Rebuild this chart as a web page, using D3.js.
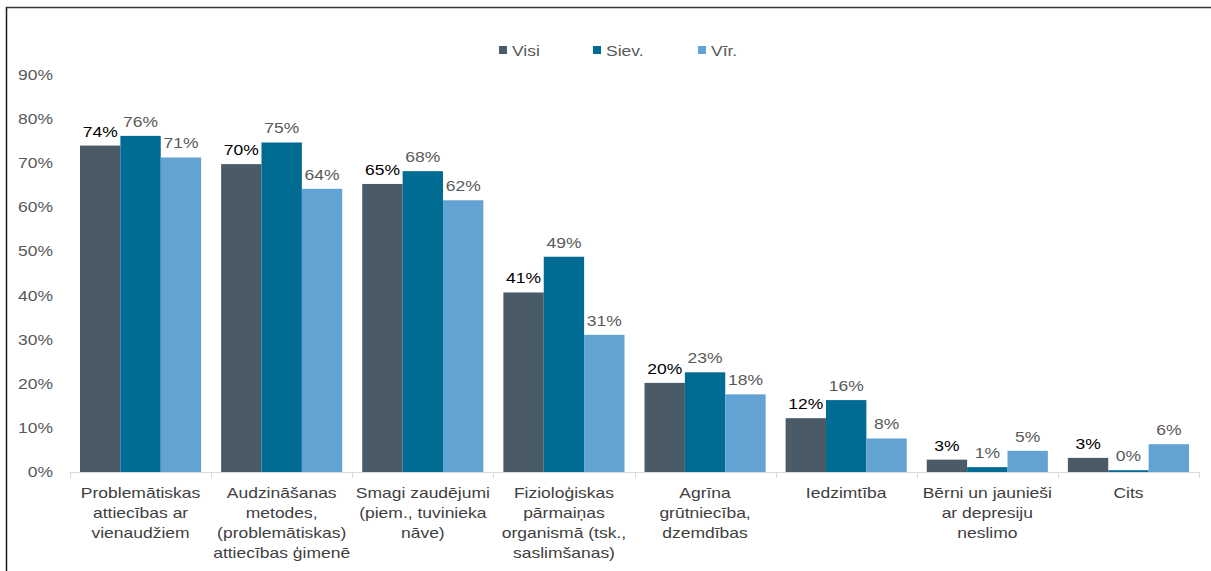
<!DOCTYPE html>
<html><head><meta charset="utf-8">
<script src="https://cdn.jsdelivr.net/npm/d3@7"></script>
<style>html,body{margin:0;padding:0;background:#fff;}svg{display:block;}</style>
</head><body>
<script>
const categories = [
  ["Problemātiskas","attiecības ar","vienaudžiem"],
  ["Audzināšanas","metodes,","(problemātiskas)","attiecības ģimenē"],
  ["Smagi zaudējumi","(piem., tuvinieka","nāve)"],
  ["Fizioloģiskas","pārmaiņas","organismā (tsk.,","saslimšanas)"],
  ["Agrīna","grūtniecība,","dzemdības"],
  ["Iedzimtība"],
  ["Bērni un jaunieši","ar depresiju","neslimo"],
  ["Cits"]
];
const seriesNames = ["Visi","Siev.","Vīr."];
const visi  = [74.0, 69.8, 65.3, 40.7, 20.2, 12.2, 2.8, 3.2];
const siev  = [76.2, 74.7, 68.2, 48.8, 22.6, 16.3, 1.1, 0.4];
const vir   = [71.3, 64.2, 61.6, 31.1, 17.6, 7.6, 4.8, 6.3];
const yTicks = [0,10,20,30,40,50,60,70,80,90];
const colors = ["#4a5a67","#006b93","#62a3d3"];
const labelColors = ["#000000","#595959","#595959"];

const W = 1211, H = 571;
const FS = 14, SX = 1.25;
const font = "'Liberation Sans', Arial, sans-serif";
const svg = d3.select("body").append("svg").attr("width", W).attr("height", H);

// frame
svg.append("line").attr("x1",6).attr("x2",W).attr("y1",7.5).attr("y2",7.5).attr("stroke","#3a3a3a").attr("stroke-width",1.5);
svg.append("line").attr("x1",6.5).attr("x2",6.5).attr("y1",7).attr("y2",H).attr("stroke","#1a1a1a").attr("stroke-width",1.5);

const x0 = d3.scaleBand().domain(d3.range(categories.length)).range([70,1199]).padding(0);
const x1 = d3.scaleBand().domain(d3.range(3)).range([10, x0.bandwidth()-10]).padding(0);
const y = d3.scaleLinear().domain([0,90]).range([472,75]);

function txt(g, x, yy, s, anchor, color){
  return g.append("text").attr("transform",`translate(${x},${yy}) scale(${SX},1)`)
    .attr("text-anchor",anchor).attr("font-family",font).attr("font-size",FS)
    .attr("fill",color).text(s);
}

// y tick labels
const yg = svg.append("g");
yTicks.forEach(t => txt(yg, 53, y(t)+5, t+"%", "end", "#595959"));

// bars
const data = [visi, siev, vir];
const bg = svg.append("g");
data.forEach((arr, si) => {
  arr.forEach((v, ci) => {
    const bx = x0(ci) + x1(si);
    bg.append("rect").attr("x", bx).attr("y", y(v)).attr("width", x1.bandwidth())
      .attr("height", y(0)-y(v)).attr("fill", colors[si]);
  });
});
// axis line + ticks
const ax = svg.append("g");
ax.append("line").attr("x1",70).attr("x2",1199).attr("y1",472.5).attr("y2",472.5).attr("stroke","#d9d9d9").attr("stroke-width",1);
d3.range(categories.length+1).forEach(i => {
  const xx = Math.round(70 + i*x0.step()) + 0.5;
  ax.append("line").attr("x1",xx).attr("x2",xx).attr("y1",472).attr("y2",478).attr("stroke","#d9d9d9");
});
// data labels
const lg = svg.append("g");
data.forEach((arr, si) => {
  arr.forEach((v, ci) => {
    const cx = x0(ci) + x1(si) + x1.bandwidth()/2;
    txt(lg, cx, y(v)-9, Math.round(v)+"%", "middle", labelColors[si]);
  });
});
// x labels
const xg = svg.append("g");
categories.forEach((lines, ci) => {
  const cx = x0(ci) + x0.bandwidth()/2;
  lines.forEach((l, li) => txt(xg, cx, 498 + li*20, l, "middle", "#404040"));
});
// legend
const leg = svg.append("g");
const legX = [499, 593, 698];
seriesNames.forEach((n, i) => {
  leg.append("rect").attr("x", legX[i]).attr("y", 46).attr("width", 8).attr("height", 8).attr("fill", colors[i]);
  txt(leg, legX[i]+13, 55.5, n, "start", "#595959");
});
</script>
</body></html>
